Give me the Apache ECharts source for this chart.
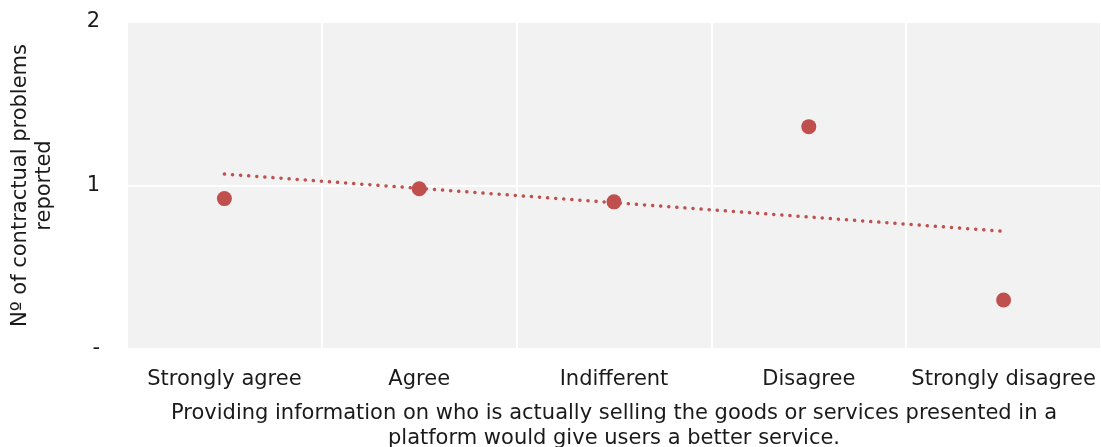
<!DOCTYPE html>
<html>
<head>
<meta charset="utf-8">
<script src="https://cdn.jsdelivr.net/npm/echarts@6/dist/echarts.min.js"></script>
<style>
  html, body { margin: 0; padding: 0; background: #fff; }
  #chart { width: 1101px; height: 447px; }
</style>
</head>
<body>
<div id="chart"></div>
<script>
var categories = ['Strongly agree', 'Agree', 'Indifferent', 'Disagree', 'Strongly disagree'];
var problems = [0.92, 0.98, 0.90, 1.36, 0.30];
// linear trend, read at first and last category
var trend = [1.07, null, null, null, 0.72];
var yTicks = { 0: '-', 1: '1', 2: '2' };

var font = 'DejaVu Sans';
var ink = '#1a1a1a';
var red = '#c0504d';

var chart = echarts.init(document.getElementById('chart'));
var option = {
  animation: false,
  textStyle: { color: ink, fontFamily: font, fontSize: 21 },
  grid: {
    left: 127,
    right: 0,
    top: 22,
    bottom: 98,
    outerBoundsMode: 'none',
    containLabel: false,
    show: true,
    backgroundColor: '#f2f2f2',
    borderWidth: 0
  },
  xAxis: {
    type: 'category',
    data: categories,
    boundaryGap: true,
    axisLine: { show: false },
    axisTick: { show: false },
    splitLine: { show: true, lineStyle: { color: '#ffffff', width: 2 } },
    axisLabel: { margin: 20, color: ink, fontSize: 21, fontFamily: font, interval: 0 },
    name: 'Providing information on who is actually selling the goods or services presented in a\nplatform would give users a better service.',
    nameLocation: 'middle',
    nameGap: 52,
    nameTextStyle: { color: ink, fontSize: 21, fontFamily: font, lineHeight: 25, verticalAlign: 'top' }
  },
  yAxis: {
    type: 'value',
    min: 0,
    max: 2,
    interval: 1,
    axisLine: { show: false },
    axisTick: { show: false },
    splitLine: { show: true, lineStyle: { color: '#ffffff', width: 2 } },
    axisLabel: {
      margin: 27,
      color: ink,
      fontSize: 21,
      fontFamily: font,
      formatter: function (v) { return yTicks[v]; }
    },
    name: 'Nº of contractual problems\nreported',
    nameLocation: 'middle',
    nameGap: 70,
    nameTextStyle: { color: ink, fontSize: 21, fontFamily: font, lineHeight: 24 }
  },
  series: [{
    type: 'line',
    data: trend,
    connectNulls: true,
    symbol: 'none',
    lineStyle: { color: red, width: 3.5, type: [0.1, 8], cap: 'round' },
    z: 2
  }, {
    type: 'scatter',
    data: problems,
    symbolSize: 15,
    itemStyle: { color: red, opacity: 1 },
    z: 3
  }]
};
chart.setOption(option);
</script>
</body>
</html>
